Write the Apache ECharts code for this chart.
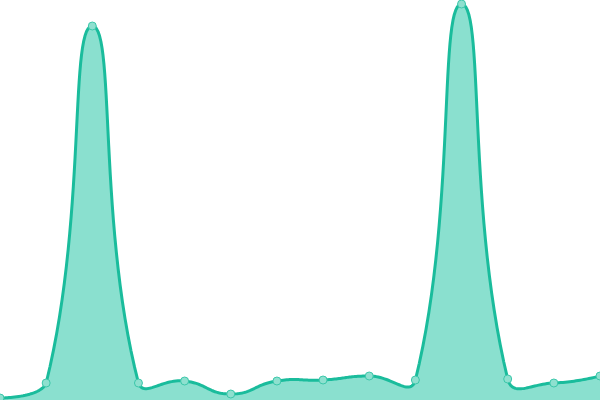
<!DOCTYPE html>
<html>
<head>
<meta charset="utf-8">
<script src="https://cdn.jsdelivr.net/npm/echarts@6/dist/echarts.min.js"></script>
<style>html,body{margin:0;padding:0;background:#fff}#c{width:600px;height:400px}</style>
</head>
<body>
<div id="c"></div>
<script>
var categories = ['1','2','3','4','5','6','7','8','9','10','11','12','13','14'];
var values = [2, 17, 374, 17, 19, 6, 19, 20, 24, 20, 396, 21, 17, 24];
var SMOOTH = 0.5;

function curvePoints(api) {
  var pts = values.map(function (v, i) { return api.coord([i, v]); });
  var n = pts.length;
  var minX = Infinity, minY = Infinity, maxX = -Infinity, maxY = -Infinity;
  pts.forEach(function (p) {
    minX = Math.min(minX, p[0]); maxX = Math.max(maxX, p[0]);
    minY = Math.min(minY, p[1]); maxY = Math.max(maxY, p[1]);
  });
  function clamp(p) {
    return [Math.min(maxX, Math.max(minX, p[0])), Math.min(maxY, Math.max(minY, p[1]))];
  }
  var cpPrev = [], cpNext = [];
  for (var i = 0; i < n; i++) {
    var p = pts[i];
    if (i === 0 || i === n - 1) { cpPrev[i] = p.slice(); cpNext[i] = p.slice(); continue; }
    var a = pts[i - 1], b = pts[i + 1];
    var vx = (b[0] - a[0]) * SMOOTH, vy = (b[1] - a[1]) * SMOOTH;
    var d0 = Math.hypot(p[0] - a[0], p[1] - a[1]);
    var d1 = Math.hypot(p[0] - b[0], p[1] - b[1]);
    var s = d0 + d1; if (s) { d0 /= s; d1 /= s; }
    cpPrev[i] = clamp([p[0] - vx * d0, p[1] - vy * d0]);
    cpNext[i] = clamp([p[0] + vx * d1, p[1] + vy * d1]);
  }
  var out = [pts[0]];
  var steps = 30;
  for (var k = 0; k < n - 1; k++) {
    var p0 = pts[k], c0 = cpNext[k], c1 = cpPrev[k + 1], p1 = pts[k + 1];
    for (var t = 1; t <= steps; t++) {
      var u = t / steps, m = 1 - u;
      out.push([
        m * m * m * p0[0] + 3 * m * m * u * c0[0] + 3 * m * u * u * c1[0] + u * u * u * p1[0],
        m * m * m * p0[1] + 3 * m * m * u * c0[1] + 3 * m * u * u * c1[1] + u * u * u * p1[1]
      ]);
    }
  }
  return out;
}

var chart = echarts.init(document.getElementById('c'));
chart.setOption({
  animation: false,
  grid: {left: 0, right: 0, top: 0, bottom: 0},
  xAxis: {type: 'category', data: categories, boundaryGap: false, show: false},
  yAxis: {type: 'value', min: 0, max: 400, show: false},
  series: [{
    type: 'custom',
    z: 1,
    clip: false,
    data: values.map(function (v, i) { return [i, v]; }),
    encode: {x: 0, y: 1},
    renderItem: function (params, api) {
      if (params.dataIndex !== 0) return null;
      var line = curvePoints(api);
      var bottom = api.coord([0, 0])[1];
      var area = line.concat([[line[line.length - 1][0], bottom], [line[0][0], bottom]]);
      return {
        type: 'group',
        children: [
          {type: 'polygon', shape: {points: area}, style: {fill: '#8ae0cf', stroke: null}},
          {type: 'polyline', shape: {points: line}, style: {fill: null, stroke: '#1abc9c', lineWidth: 3, lineJoin: 'round', lineCap: 'round'}}
        ]
      };
    }
  }, {
    type: 'line',
    z: 3,
    data: values,
    symbol: 'circle',
    symbolSize: 8,
    showSymbol: true,
    lineStyle: {width: 0, opacity: 0},
    itemStyle: {color: '#8ee0cf', borderColor: '#3cc7aa', borderWidth: 1}
  }]
});
</script>
</body>
</html>
